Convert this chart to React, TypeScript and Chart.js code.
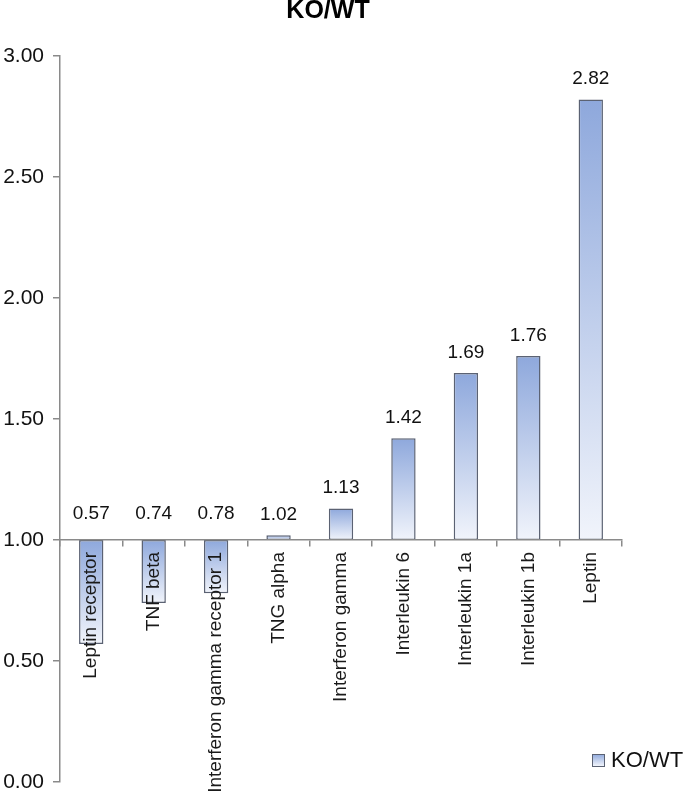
import React, { useEffect, useRef } from "react";
import { Chart, registerables } from "chart.js";

Chart.register(...registerables);

const categories: string[] = [
  "Leptin receptor",
  "TNF beta",
  "Interferon gamma receptor 1",
  "TNG alpha",
  "Interferon gamma",
  "Interleukin 6",
  "Interleukin 1a",
  "Interleukin 1b",
  "Leptin",
];
const values: number[] = [0.57, 0.74, 0.78, 1.02, 1.13, 1.42, 1.69, 1.76, 2.82];
const baseline = 1.0;
const seriesName = "KO/WT";
const chartTitle = "KO/WT";
const yMin = 0;
const yMax = 3;
const yStep = 0.5;

const FONT = "'Liberation Sans', Arial, Helvetica, sans-serif";
const TOP_COLOR = "#8ea8dc";
const BOTTOM_COLOR = "#f1f4fb";
const BORDER_COLOR = "#5b6273";
const AXIS_COLOR = "#8a8a8a";

const overlayPlugin = {
  id: "overlay",
  afterDatasetsDraw(chart: any) {
    const { ctx } = chart;
    const ys = chart.scales.y;
    const meta = chart.getDatasetMeta(0);
    ctx.save();
    // value labels
    ctx.font = `19px ${FONT}`;
    ctx.fillStyle = "#111";
    ctx.textAlign = "center";
    ctx.textBaseline = "bottom";
    meta.data.forEach((el: any, i: number) => {
      const v = values[i];
      const topPix = ys.getPixelForValue(Math.max(v, baseline));
      const gap = v < baseline ? 17 : 11;
      ctx.fillText(v.toFixed(2), el.x, topPix - gap);
    });
    // title
    ctx.font = `bold 25px ${FONT}`;
    ctx.fillStyle = "#000";
    ctx.textAlign = "center";
    ctx.textBaseline = "top";
    ctx.fillText(chartTitle, 328, -1);
    // legend
    const bx = 592, by = 754, bs = 12;
    const g = ctx.createLinearGradient(0, by, 0, by + bs);
    g.addColorStop(0, TOP_COLOR);
    g.addColorStop(1, BOTTOM_COLOR);
    ctx.fillStyle = g;
    ctx.fillRect(bx, by, bs, bs);
    ctx.strokeStyle = BORDER_COLOR;
    ctx.lineWidth = 1;
    ctx.strokeRect(bx + 0.5, by + 0.5, bs, bs);
    ctx.font = `22px ${FONT}`;
    ctx.fillStyle = "#111";
    ctx.textAlign = "left";
    ctx.textBaseline = "middle";
    ctx.fillText(seriesName, 611, by + bs / 2 + 1);
    ctx.restore();
  },
};

export default function App() {
  const canvasRef = useRef<HTMLCanvasElement | null>(null);

  useEffect(() => {
    if (!canvasRef.current) return;
    const chart = new Chart(canvasRef.current, {
      type: "bar",
      data: {
        labels: categories,
        datasets: [
          {
            label: seriesName,
            data: values.map((v) => [baseline, v]) as any,
            backgroundColor: (c: any) => {
              const ch = c.chart;
              const ys = ch.scales && ch.scales.y;
              if (!ys || c.type !== "data" || !Array.isArray(c.raw)) return "#b8c9ec";
              const top = ys.getPixelForValue(Math.max(...c.raw));
              const bot = ys.getPixelForValue(Math.min(...c.raw));
              if (!isFinite(top) || !isFinite(bot) || top === bot) return "#b8c9ec";
              const g = ch.ctx.createLinearGradient(0, top, 0, bot);
              g.addColorStop(0, TOP_COLOR);
              g.addColorStop(1, BOTTOM_COLOR);
              return g;
            },
            borderColor: BORDER_COLOR,
            borderWidth: 1.5,
            borderSkipped: false,
            barPercentage: 0.39,
            categoryPercentage: 1,
          },
        ],
      },
      options: {
        animation: false,
        responsive: true,
        maintainAspectRatio: false,
        layout: { padding: { top: 56, right: 63, bottom: 13, left: 0 } },
        plugins: {
          legend: { display: false },
          title: { display: false },
          tooltip: { enabled: false },
        },
        scales: {
          x: {
            type: "category",
            position: { y: baseline } as any,
            offset: true,
            afterFit: (s: any) => {
              s.paddingTop = 0;
              s.paddingBottom = 0;
            },
            grid: {
              offset: true,
              drawOnChartArea: false,
              drawTicks: true,
              tickLength: 6,
              color: AXIS_COLOR,
              lineWidth: 1.5,
            },
            border: { display: true, color: AXIS_COLOR, width: 1.5, z: 1 },
            ticks: {
              z: 1,
              autoSkip: false,
              maxRotation: 90,
              minRotation: 90,
              padding: 6,
              color: "#1a1a1a",
              font: { family: FONT, size: 19 },
            },
          },
          y: {
            min: yMin,
            max: yMax,
            afterFit: (s: any) => {
              s.width = 60;
              s.paddingBottom = 0;
            },
            grid: {
              drawOnChartArea: false,
              drawTicks: true,
              tickLength: 7,
              color: AXIS_COLOR,
              lineWidth: 1.5,
            },
            border: { display: true, color: AXIS_COLOR, width: 1.5 },
            ticks: {
              stepSize: yStep,
              padding: 9,
              color: "#111",
              font: { family: FONT, size: 21 },
              callback: (v: any) => Number(v).toFixed(2),
            },
          },
        },
      },
      plugins: [overlayPlugin],
    });
    return () => chart.destroy();
  }, []);

  return (
    <div
      style={{
        position: "absolute",
        left: 0,
        top: 0,
        width: 685,
        height: 795,
        background: "#fff",
      }}
    >
      <canvas ref={canvasRef} />
    </div>
  );
}
